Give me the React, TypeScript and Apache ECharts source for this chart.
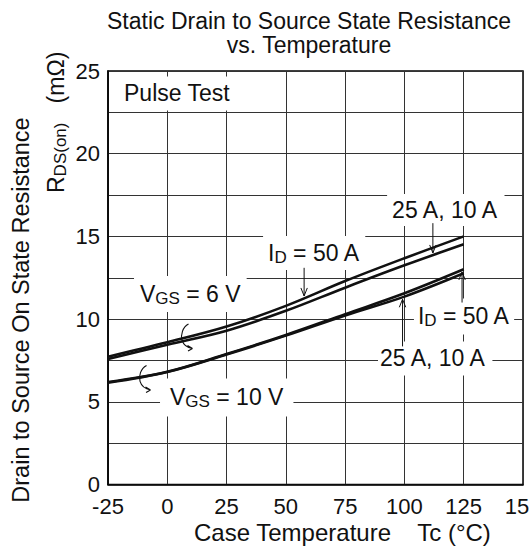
import React, { useEffect, useRef } from "react";
import * as echarts from "echarts";

// ---- data ----
const temps = [-25, 0, 25, 50, 75, 100, 125];
const vgs6_id50 = [7.73, 8.6, 9.55, 10.8, 12.3, 13.68, 15.0];
const vgs6_id25_10 = [7.59, 8.45, 9.3, 10.5, 11.9, 13.25, 14.52];
const vgs10_id50 = [6.2, 6.82, 7.89, 9.04, 10.3, 11.56, 13.01];
const vgs10_id25_10 = [6.15, 6.8, 7.86, 9.0, 10.22, 11.36, 12.77];

const xRange = [-25, 150];
const xStep = 25;
const yRange = [0, 25];
const yStep = 2.5;
const yLabelStep = 5;

// annotation arrows: [x, tailY, tipY] in data units
const arrowX = [57.7, 112, 124.3, 99.2];
const arrowTail = [13.1, 15.8, 11.0, 8.35];
const arrowTip = [11.4, 14.0, 12.85, 11.2];

// curl symbols (top-left anchor, data units)
const curlX = [6.0, -11.7];
const curlY = [9.7, 7.2];

const FONT = "'Liberation Sans', Arial, Helvetica, sans-serif";
const INK = "#111";

echarts.graphic.registerShape(
  "curl",
  echarts.graphic.extendPath(
    "M 7 0 C 1 3 -1 11 0.5 16 C 2 21 5 23.5 11 24.5 M 11 24.5 L 6 21.5 M 11 24.5 L 6.5 27",
    {}
  )
);

const pairs = (ys: number[]) => temps.map((t, i) => [t, ys[i]]);

export default function App() {
  const ref = useRef<HTMLDivElement>(null);
  useEffect(() => {
    if (!ref.current) return;
    const chart = echarts.init(ref.current, undefined, { renderer: "svg" });
    const lineStyle = { color: INK, width: 2.6 };
    const mkSeries = (name: string, ys: number[]) => ({
      name,
      type: "line",
      data: pairs(ys),
      smooth: 0.35,
      symbol: "none",
      lineStyle,
      z: 5,
    });
    chart.setOption({
      animation: false,
      grid: {
        left: 108,
        right: 6,
        top: 71,
        bottom: 69.5,
        show: true,
        borderColor: "#000",
        borderWidth: 1.5,
        containLabel: false,
        outerBoundsMode: "none",
      },
      xAxis: {
        type: "value",
        min: xRange[0],
        max: xRange[1],
        interval: xStep,
        axisLine: { onZero: false, lineStyle: { color: "#000", width: 1.5 } },
        axisTick: { show: false },
        axisLabel: { color: INK, fontSize: 22, lineHeight: 20, fontFamily: FONT, margin: 12 },
        splitLine: { show: true, lineStyle: { color: "#333", width: 1 } },
      },
      yAxis: {
        type: "value",
        min: yRange[0],
        max: yRange[1],
        interval: yStep,
        axisLine: { show: true, onZero: false, lineStyle: { color: "#000", width: 1.5 } },
        axisTick: { show: false },
        axisLabel: {
          color: INK,
          fontSize: 22,
          lineHeight: 20,
          fontFamily: FONT,
          margin: 8,
          formatter: (v: number) => (Math.abs(v % yLabelStep) < 1e-9 ? String(v) : ""),
        },
        splitLine: { show: true, lineStyle: { color: "#333", width: 1 } },
      },
      series: [
        mkSeries("VGS=6V ID=50A", vgs6_id50),
        mkSeries("VGS=6V ID=25A,10A", vgs6_id25_10),
        mkSeries("VGS=10V ID=50A", vgs10_id50),
        mkSeries("VGS=10V ID=25A,10A", vgs10_id25_10),
      ],
    });

    const P = (x: number, y: number) =>
      chart.convertToPixel({ gridIndex: 0 }, [x, y]) as number[];

    const rich = {
      m: { fontSize: 23, fontFamily: FONT, fill: INK, lineHeight: 26 },
      s: { fontSize: 17, fontFamily: FONT, fill: INK, lineHeight: 14, verticalAlign: "bottom" },
    };

    const label = (dx: number, dy: number, text: string, pad: number[]) => {
      const [px, py] = P(dx, dy);
      return {
        type: "text",
        x: px - pad[3],
        y: py,
        z: 50,
        style: {
          text,
          rich,
          fontSize: 23,
          fontFamily: FONT,
          fill: INK,
          lineHeight: 26,
          align: "left",
          verticalAlign: "middle",
          backgroundColor: "#fff",
          padding: pad,
        },
      };
    };

    const graphics: any[] = [];
    graphics.push(label(-18.25, 23.64, "{m|Pulse Test}", [4, 6, 4, 6]));
    graphics.push(label(-11.5, 11.52, "{m|V}{s|GS}{m| = 6 V}", [5, 6, 5, 6]));
    graphics.push(label(1.15, 5.26, "{m|V}{s|GS}{m| = 10 V}", [6, 10, 6, 10]));
    graphics.push(label(42.5, 14.0, "{m|I}{s|D}{m| = 50 A}", [4, 5, 4, 5]));
    graphics.push(label(94.8, 16.6, "{m|25 A, 10 A}", [3, 5, 3, 5]));
    graphics.push(label(105.7, 10.16, "{m|I}{s|D}{m| = 50 A}", [5, 4, 5, 4]));
    graphics.push(label(89.7, 7.62, "{m|25 A, 10 A}", [4, 5, 4, 2]));

    // arrows
    arrowX.forEach((ax, i) => {
      const [x1, y1] = P(ax, arrowTail[i]);
      const [x2, y2] = P(ax, arrowTip[i]);
      const dir = y2 > y1 ? 1 : -1;
      graphics.push({
        type: "line",
        z: 60,
        shape: { x1, y1, x2, y2 },
        style: { stroke: INK, lineWidth: 1 },
      });
      graphics.push({
        type: "polyline",
        z: 60,
        shape: {
          points: [
            [x2 - 3.2, y2 - dir * 8],
            [x2, y2],
            [x2 + 3.2, y2 - dir * 8],
          ],
        },
        style: { stroke: INK, lineWidth: 1, fill: "none" },
      });
    });

    // curls
    curlX.forEach((cx, i) => {
      const [px, py] = P(cx, curlY[i]);
      graphics.push({
        type: "curl",
        x: px,
        y: py,
        z: 60,
        style: { stroke: INK, lineWidth: 1.1, fill: "none" },
      });
    });

    // titles and axis names
    graphics.push({
      type: "text",
      x: 309,
      y: 33,
      style: {
        text: "Static Drain to Source State Resistance\nvs. Temperature",
        fontSize: 23,
        lineHeight: 24,
        fontFamily: FONT,
        fill: INK,
        align: "center",
        verticalAlign: "middle",
      },
    });
    graphics.push({
      type: "text",
      x: 194,
      y: 532,
      style: { text: "Case Temperature    Tc (°C)", fontSize: 24, fontFamily: FONT, fill: INK, align: "left", verticalAlign: "middle" },
    });
    graphics.push({
      type: "text",
      x: 21,
      y: 310,
      rotation: Math.PI / 2,
      style: { text: "Drain to Source On State Resistance", fontSize: 23.5, fontFamily: FONT, fill: INK, align: "center", verticalAlign: "middle" },
    });
    graphics.push({
      type: "text",
      x: 56,
      y: 193,
      rotation: Math.PI / 2,
      style: {
        text: "{m|R}{s|DS(on)}{m|   (mΩ)}",
        rich,
        fontSize: 23,
        fontFamily: FONT,
        fill: INK,
        lineHeight: 26,
        align: "left",
        verticalAlign: "middle",
      },
    });

    chart.setOption({ graphic: { elements: graphics } });
    return () => chart.dispose();
  }, []);
  return (
    <div
      ref={ref}
      style={{ position: "absolute", left: 0, top: 0, width: 529, height: 554, background: "#fff" }}
    />
  );
}
